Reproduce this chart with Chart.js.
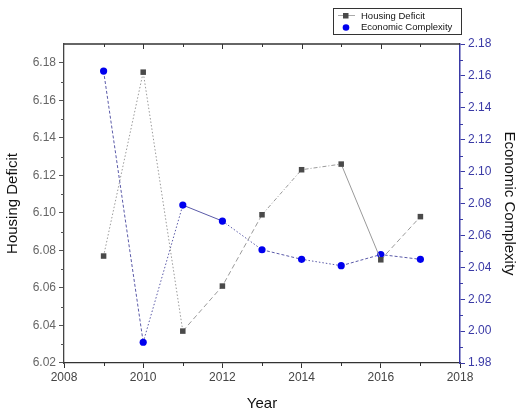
<!DOCTYPE html>
<html>
<head>
<meta charset="utf-8">
<script src="https://cdn.jsdelivr.net/npm/chart.js@4/dist/chart.umd.min.js"></script>
<style>
  html, body { margin: 0; padding: 0; background: #fff; }
  #wrap { width: 518px; height: 415px; }
</style>
</head>
<body>
<div id="wrap"><canvas id="chart" width="518" height="415"></canvas></div>
<script>
// data
const years = [2009, 2010, 2011, 2012, 2013, 2014, 2015, 2016, 2017];
const housingDeficit = [6.077, 6.175, 6.037, 6.061, 6.099, 6.123, 6.126, 6.075, 6.098];
const economicComplexity = [2.163, 1.993, 2.079, 2.069, 2.051, 2.045, 2.041, 2.048, 2.045];
const seriesLabels = ['Housing Deficit', 'Economic Complexity'];
const axisTitles = { x: 'Year', left: 'Housing Deficit', right: 'Economic Complexity' };

const BLUE_AXIS = '#3a3aa6';
const FONT = 'Liberation Sans, Arial, sans-serif';

// frame, minor ticks and top ticks
const framePlugin = {
    id: 'frame',
    afterDraw(chart) {
        const ctx = chart.ctx;
        const a = chart.chartArea;
        const xs = chart.scales.x, yl = chart.scales.y, yr = chart.scales.y1;
        ctx.save();
        ctx.lineWidth = 1.3;
        // top border
        ctx.strokeStyle = '#333';
        ctx.beginPath();
        ctx.moveTo(a.left, a.top);
        ctx.lineTo(a.right, a.top);
        ctx.stroke();
        ctx.lineWidth = 1;
        // x minor ticks (bottom outward) and top ticks (inward)
        for (let v = 2008; v <= 2018; v++) {
            const px = Math.round(xs.getPixelForValue(v)) + 0.5;
            ctx.beginPath();
            if (v % 2 === 1) {
                ctx.moveTo(px, a.bottom);
                ctx.lineTo(px, a.bottom + 3);
            }
            if (v > 2008 && v < 2018) {
                ctx.moveTo(px, a.top);
                ctx.lineTo(px, a.top + (v % 2 === 0 ? 5 : 3));
            }
            ctx.stroke();
        }
        // left minor ticks
        ctx.strokeStyle = '#555';
        for (let k = 0; k < 8; k++) {
            const py = Math.round(yl.getPixelForValue(6.03 + k * 0.02)) + 0.5;
            ctx.beginPath();
            ctx.moveTo(a.left, py);
            ctx.lineTo(a.left - 3, py);
            ctx.stroke();
        }
        // right minor ticks
        ctx.strokeStyle = BLUE_AXIS;
        for (let k = 0; k < 10; k++) {
            const py = Math.round(yr.getPixelForValue(1.99 + k * 0.02)) + 0.5;
            ctx.beginPath();
            ctx.moveTo(a.right, py);
            ctx.lineTo(a.right + 3, py);
            ctx.stroke();
        }
        ctx.restore();
    }
};

// legend box in the top right corner
const legendPlugin = {
    id: 'boxLegend',
    afterDraw(chart) {
        const ctx = chart.ctx;
        const x0 = 333, y0 = 8, w = 128, h = 26;
        ctx.save();
        ctx.fillStyle = '#fff';
        ctx.fillRect(x0, y0, w, h);
        ctx.strokeStyle = '#333';
        ctx.lineWidth = 1;
        ctx.strokeRect(x0 + 0.5, y0 + 0.5, w, h);
        ctx.font = '9.5px ' + FONT;
        ctx.textBaseline = 'middle';
        ctx.fillStyle = '#111';
        // row 1
        ctx.strokeStyle = '#aaa';
        ctx.beginPath();
        ctx.moveTo(x0 + 5, y0 + 7.5);
        ctx.lineTo(x0 + 22, y0 + 7.5);
        ctx.stroke();
        ctx.fillStyle = '#4a4a4a';
        ctx.fillRect(x0 + 10, y0 + 5, 5.5, 5.5);
        ctx.fillStyle = '#111';
        ctx.fillText(chart.data.datasets[0].label, x0 + 28, y0 + 8);
        // row 2
        ctx.fillStyle = '#0000ee';
        ctx.beginPath();
        ctx.arc(x0 + 13, y0 + 19.5, 3.3, 0, Math.PI * 2);
        ctx.fill();
        ctx.fillStyle = '#111';
        ctx.fillText(chart.data.datasets[1].label, x0 + 28, y0 + 19.5);
        ctx.restore();
    }
};

const hdPoints = years.map((y, i) => ({ x: y, y: housingDeficit[i] }));
const ecPoints = years.map((y, i) => ({ x: y, y: economicComplexity[i] }));

// segment dash patterns vary along the lines in the picture
const grayDash = [[1.5, 2], [1.5, 2], [5, 3], [5, 3], [4, 2, 1, 2], [4, 2, 1, 2], [], [5, 3]];
const blueDash = [[3, 2], [1.5, 2], [], [1.5, 2], [3, 2], [1.5, 2], [3, 2], [3, 2]];

new Chart(document.getElementById('chart'), {
    type: 'line',
    data: {
        datasets: [
            {
                label: seriesLabels[0],
                data: hdPoints,
                yAxisID: 'y',
                borderColor: '#9a9a9a',
                borderWidth: 1,
                pointStyle: 'rect',
                pointRadius: 3.9,
                pointBackgroundColor: '#4a4a4a',
                pointBorderColor: '#4a4a4a',
                pointBorderWidth: 0,
                segment: { borderDash: c => grayDash[c.p0DataIndex] },
                tension: 0
            },
            {
                label: seriesLabels[1],
                data: ecPoints,
                yAxisID: 'y1',
                borderColor: '#5a5aa8',
                borderWidth: 1,
                pointStyle: 'circle',
                pointRadius: 3.6,
                pointBackgroundColor: '#0000ee',
                pointBorderColor: '#0000ee',
                pointBorderWidth: 0,
                segment: { borderDash: c => blueDash[c.p0DataIndex] },
                tension: 0
            }
        ]
    },
    options: {
        responsive: false,
        animation: false,
        layout: { padding: { top: 44, left: 0, right: 0, bottom: 0 } },
        plugins: { legend: { display: false }, tooltip: { enabled: false } },
        scales: {
            x: {
                type: 'linear',
                min: 2008, max: 2018,
                afterFit: s => { s.height = 52; },
                ticks: { stepSize: 2, color: '#444', font: { family: FONT, size: 12 }, padding: 2, maxRotation: 0,
                         callback: v => String(v) },
                grid: { drawOnChartArea: false, drawTicks: true, tickLength: 5, color: '#333' },
                border: { color: '#333', width: 1.3 },
                title: { display: true, text: axisTitles.x, color: '#111', font: { family: FONT, size: 15 }, padding: { top: 0, bottom: 2 } }
            },
            y: {
                position: 'left',
                min: 6.02, max: 6.19,
                afterFit: s => { s.width = 64; },
                ticks: { stepSize: 0.02, includeBounds: false, color: '#666', font: { family: FONT, size: 12 }, padding: 3,
                         callback: v => v.toFixed(2) },
                grid: { drawOnChartArea: false, drawTicks: true, tickLength: 5, color: '#555' },
                border: { color: '#444', width: 1.3 },
                title: { display: true, text: axisTitles.left, color: '#111', font: { family: FONT, size: 15 }, padding: { top: 4, bottom: 2 } }
            },
            y1: {
                position: 'right',
                min: 1.98, max: 2.18,
                afterFit: s => { s.width = 58; },
                ticks: { stepSize: 0.02, color: BLUE_AXIS, font: { family: FONT, size: 12 }, padding: 3,
                         callback: v => v.toFixed(2) },
                grid: { drawOnChartArea: false, drawTicks: true, tickLength: 5, color: BLUE_AXIS },
                border: { color: BLUE_AXIS, width: 1.5 },
                title: { display: true, text: axisTitles.right, color: '#111', font: { family: FONT, size: 15 }, padding: { top: 0, bottom: 2 } }
            }
        }
    },
    plugins: [framePlugin, legendPlugin]
});
</script>
</body>
</html>
